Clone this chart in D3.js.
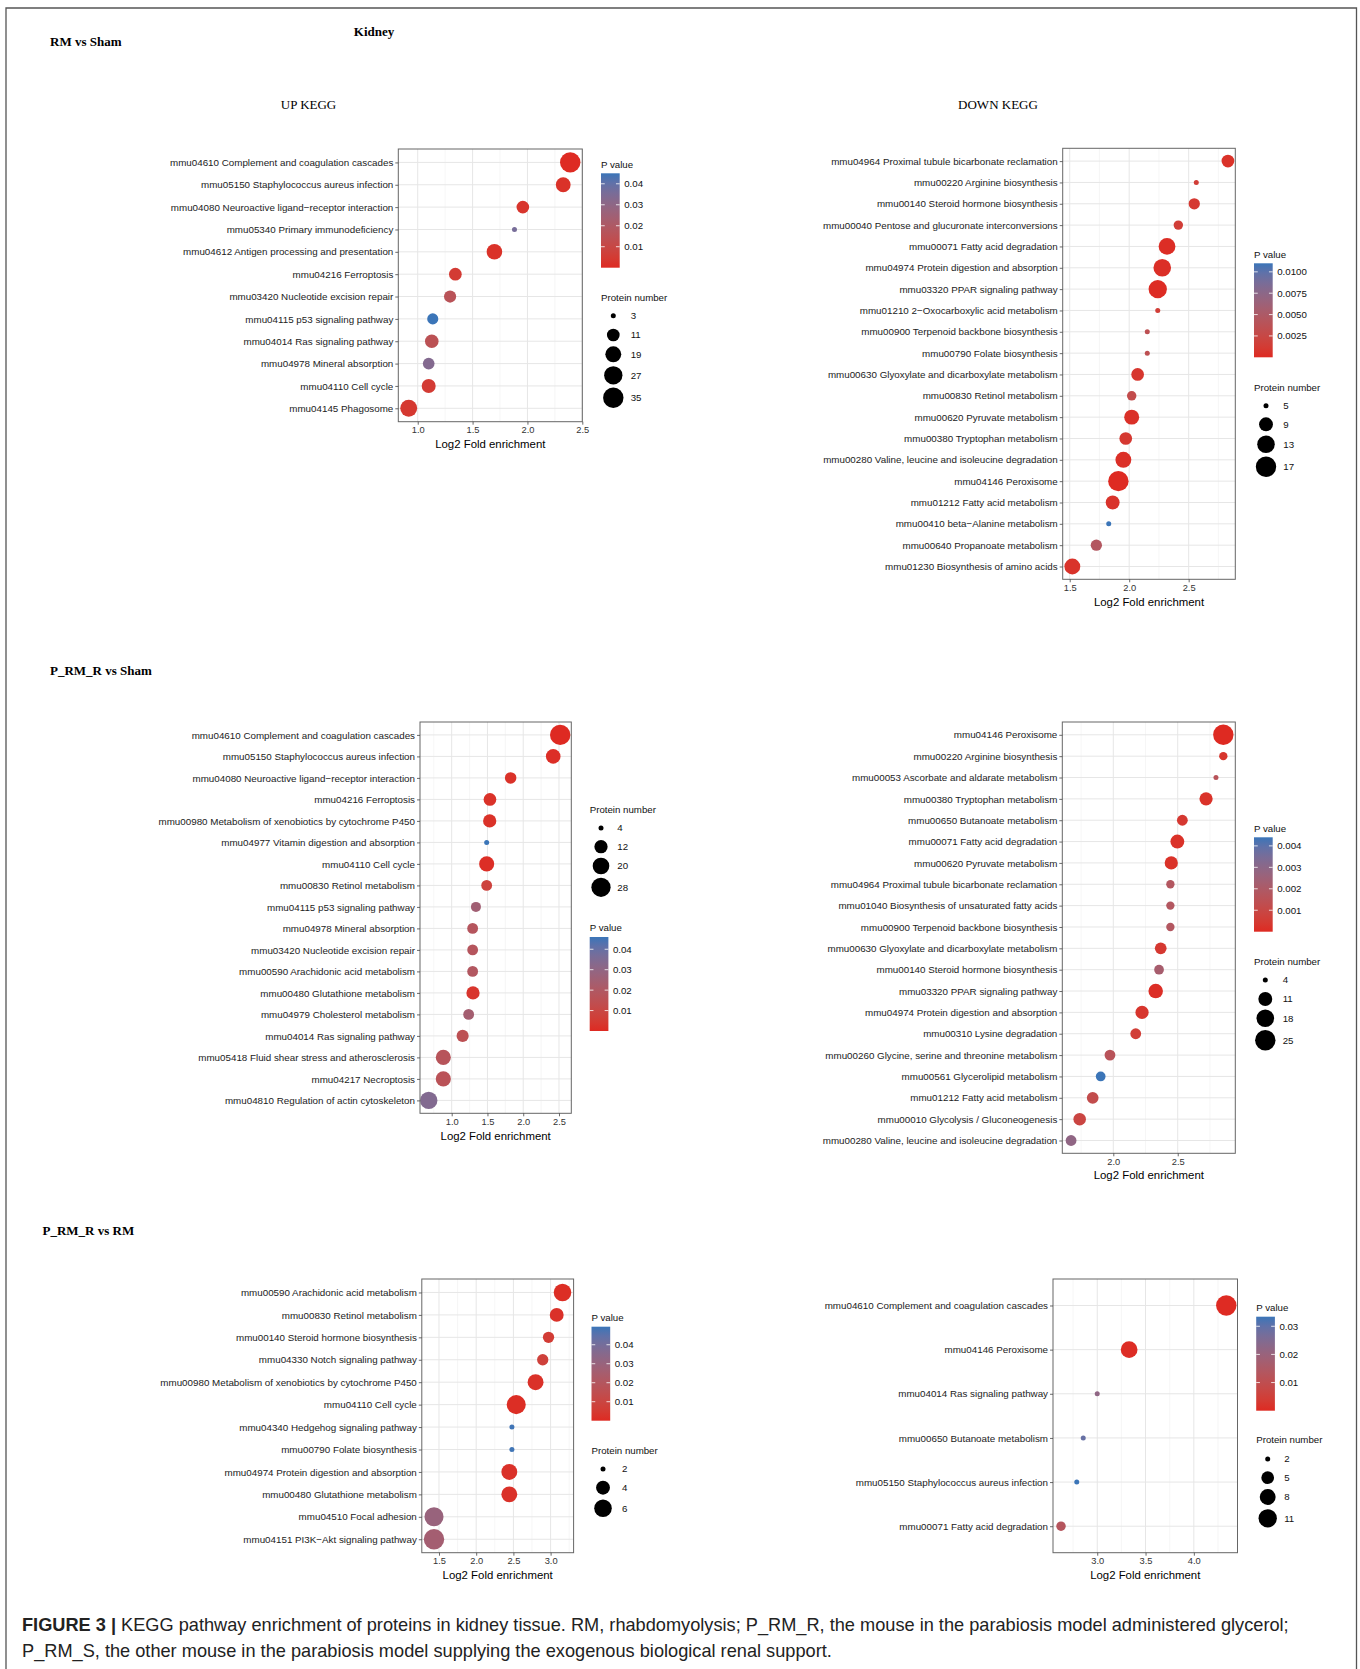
<!DOCTYPE html>
<html><head><meta charset="utf-8">
<script src="https://cdn.jsdelivr.net/npm/d3@7"></script>
<style>body{margin:0;background:#fff} svg{display:block}</style>
</head><body>
<svg id="fig" width="1360" height="1669"></svg>
<script>
// ---------------- DATA ----------------
// Panel 1: RM vs Sham, UP KEGG
const p1Terms = ["mmu04610 Complement and coagulation cascades","mmu05150 Staphylococcus aureus infection","mmu04080 Neuroactive ligand\u2212receptor interaction","mmu05340 Primary immunodeficiency","mmu04612 Antigen processing and presentation","mmu04216 Ferroptosis","mmu03420 Nucleotide excision repair","mmu04115 p53 signaling pathway","mmu04014 Ras signaling pathway","mmu04978 Mineral absorption","mmu04110 Cell cycle","mmu04145 Phagosome"];
const p1Fold = [2.39, 2.326, 1.958, 1.882, 1.699, 1.343, 1.295, 1.137, 1.128, 1.10, 1.10, 0.918];
const p1Count = [35, 16, 11, 3, 18, 11, 10, 8, 13, 9, 14, 22];
const p1P = [0.0002, 0.002, 0.003, 0.036, 0.002, 0.005, 0.016, 0.045, 0.015, 0.033, 0.005, 0.004];
const p1XTicks = [1.0, 1.5, 2.0, 2.5];
const p1PTicks = [0.01, 0.02, 0.03, 0.04];
const p1SizeBreaks = [3, 11, 19, 27, 35];

// Panel 2: RM vs Sham, DOWN KEGG
const p2Terms = ["mmu04964 Proximal tubule bicarbonate reclamation","mmu00220 Arginine biosynthesis","mmu00140 Steroid hormone biosynthesis","mmu00040 Pentose and glucuronate interconversions","mmu00071 Fatty acid degradation","mmu04974 Protein digestion and absorption","mmu03320 PPAR signaling pathway","mmu01210 2\u2212Oxocarboxylic acid metabolism","mmu00900 Terpenoid backbone biosynthesis","mmu00790 Folate biosynthesis","mmu00630 Glyoxylate and dicarboxylate metabolism","mmu00830 Retinol metabolism","mmu00620 Pyruvate metabolism","mmu00380 Tryptophan metabolism","mmu00280 Valine, leucine and isoleucine degradation","mmu04146 Peroxisome","mmu01212 Fatty acid metabolism","mmu00410 beta\u2212Alanine metabolism","mmu00640 Propanoate metabolism","mmu01230 Biosynthesis of amino acids"];
const p2Fold = [2.830, 2.564, 2.547, 2.413, 2.318, 2.278, 2.240, 2.240, 2.152, 2.152, 2.071, 2.021, 2.021, 1.971, 1.951, 1.909, 1.861, 1.828, 1.724, 1.522];
const p2Count = [8, 5, 7, 6, 12, 13, 14, 5, 5, 5, 8, 6, 10, 8, 11, 17, 9, 5, 7, 11];
const p2P = [0.0005, 0.0015, 0.001, 0.0015, 0.0002, 0.0003, 0.0001, 0.0015, 0.0035, 0.0035, 0.0008, 0.003, 0.0004, 0.001, 0.0003, 0.00002, 0.0006, 0.011, 0.0045, 0.0006];
const p2XTicks = [1.5, 2.0, 2.5];
const p2PTicks = [0.0025, 0.005, 0.0075, 0.01];
const p2SizeBreaks = [5, 9, 13, 17];

// Panel 3: P_RM_R vs Sham, UP KEGG
const p3Terms = ["mmu04610 Complement and coagulation cascades","mmu05150 Staphylococcus aureus infection","mmu04080 Neuroactive ligand\u2212receptor interaction","mmu04216 Ferroptosis","mmu00980 Metabolism of xenobiotics by cytochrome P450","mmu04977 Vitamin digestion and absorption","mmu04110 Cell cycle","mmu00830 Retinol metabolism","mmu04115 p53 signaling pathway","mmu04978 Mineral absorption","mmu03420 Nucleotide excision repair","mmu00590 Arachidonic acid metabolism","mmu00480 Glutathione metabolism","mmu04979 Cholesterol metabolism","mmu04014 Ras signaling pathway","mmu05418 Fluid shear stress and atherosclerosis","mmu04217 Necroptosis","mmu04810 Regulation of actin cytoskeleton"];
const p3Fold = [2.517, 2.419, 1.824, 1.535, 1.531, 1.489, 1.489, 1.489, 1.339, 1.293, 1.293, 1.293, 1.298, 1.237, 1.153, 0.883, 0.883, 0.679];
const p3Count = [32, 15, 9, 11, 12, 4, 16, 8, 7, 8, 8, 8, 12, 8, 10, 16, 16, 22];
const p3P = [0.0001, 0.001, 0.002, 0.002, 0.002, 0.046, 0.001, 0.008, 0.025, 0.018, 0.018, 0.019, 0.003, 0.024, 0.015, 0.017, 0.016, 0.034];
const p3XTicks = [1.0, 1.5, 2.0, 2.5];
const p3PTicks = [0.01, 0.02, 0.03, 0.04];
const p3SizeBreaks = [4, 12, 20, 28];

// Panel 4: P_RM_R vs Sham, DOWN KEGG
const p4Terms = ["mmu04146 Peroxisome","mmu00220 Arginine biosynthesis","mmu00053 Ascorbate and aldarate metabolism","mmu00380 Tryptophan metabolism","mmu00650 Butanoate metabolism","mmu00071 Fatty acid degradation","mmu00620 Pyruvate metabolism","mmu04964 Proximal tubule bicarbonate reclamation","mmu01040 Biosynthesis of unsaturated fatty acids","mmu00900 Terpenoid backbone biosynthesis","mmu00630 Glyoxylate and dicarboxylate metabolism","mmu00140 Steroid hormone biosynthesis","mmu03320 PPAR signaling pathway","mmu04974 Protein digestion and absorption","mmu00310 Lysine degradation","mmu00260 Glycine, serine and threonine metabolism","mmu00561 Glycerolipid metabolism","mmu01212 Fatty acid metabolism","mmu00010 Glycolysis / Gluconeogenesis","mmu00280 Valine, leucine and isoleucine degradation"];
const p4Fold = [2.854, 2.854, 2.797, 2.72, 2.536, 2.497, 2.45, 2.443, 2.443, 2.443, 2.368, 2.355, 2.329, 2.223, 2.174, 1.974, 1.902, 1.84, 1.739, 1.672];
const p4Count = [25, 5, 4, 10, 7, 11, 10, 5, 5, 5, 8, 6, 12, 10, 7, 7, 6, 8, 9, 7];
const p4P = [0.00001, 0.0003, 0.0016, 0.0002, 0.0004, 0.0002, 0.0002, 0.0018, 0.0018, 0.0018, 0.0004, 0.0022, 0.0001, 0.0003, 0.0006, 0.0016, 0.0044, 0.0012, 0.0009, 0.0029];
const p4XTicks = [2.0, 2.5];
const p4PTicks = [0.001, 0.002, 0.003, 0.004];
const p4SizeBreaks = [4, 11, 18, 25];

// Panel 5: P_RM_R vs RM, UP KEGG
const p5Terms = ["mmu00590 Arachidonic acid metabolism","mmu00830 Retinol metabolism","mmu00140 Steroid hormone biosynthesis","mmu04330 Notch signaling pathway","mmu00980 Metabolism of xenobiotics by cytochrome P450","mmu04110 Cell cycle","mmu04340 Hedgehog signaling pathway","mmu00790 Folate biosynthesis","mmu04974 Protein digestion and absorption","mmu00480 Glutathione metabolism","mmu04510 Focal adhesion","mmu04151 PI3K\u2212Akt signaling pathway"];
const p5Fold = [3.16, 3.082, 2.972, 2.894, 2.798, 2.538, 2.48, 2.48, 2.445, 2.445, 1.433, 1.433];
const p5Count = [6, 4, 3, 3, 5, 7, 2, 2, 5, 5, 7, 8];
const p5P = [0.001, 0.002, 0.006, 0.008, 0.002, 0.001, 0.049, 0.049, 0.002, 0.002, 0.030, 0.026];
const p5XTicks = [1.5, 2.0, 2.5, 3.0];
const p5PTicks = [0.01, 0.02, 0.03, 0.04];
const p5SizeBreaks = [2, 4, 6];

// Panel 6: P_RM_R vs RM, DOWN KEGG
const p6Terms = ["mmu04610 Complement and coagulation cascades","mmu04146 Peroxisome","mmu04014 Ras signaling pathway","mmu00650 Butanoate metabolism","mmu05150 Staphylococcus aureus infection","mmu00071 Fatty acid degradation"];
const p6Fold = [4.336, 3.33, 3.0, 2.855, 2.788, 2.625];
const p6Count = [14, 9, 2, 2, 2, 3];
const p6P = [0.0001, 0.0005, 0.022, 0.029, 0.0334, 0.013];
const p6XTicks = [3.0, 3.5, 4.0];
const p6PTicks = [0.01, 0.02, 0.03];
const p6SizeBreaks = [2, 5, 8, 11];

// ---------------- LAYOUT ----------------
const SANS = "'Liberation Sans', Arial, Helvetica, sans-serif";
const SERIF = "'Liberation Serif', 'Times New Roman', serif";
const LOW = "#DE2A22", HIGH = "#3B75B8";
const RMIN = 2.5, RMAX = 10.2;

const panels = [
 {terms:p1Terms, fold:p1Fold, count:p1Count, pval:p1P, xTicks:p1XTicks, pTicks:p1PTicks, pFmt:".2f", sizeBreaks:p1SizeBreaks,
  box:[398.3,149,582.3,421.7], xDom:[0.823,2.5], pMax:0.045, sizeDom:[3,35], axisY:444,
  pLeg:{x:601, title:164.3, top:173.3, bottom:267.7}, sLeg:{x:601, title:297, cx:613.3, lx:630.7, rows:[315.7,335,354.3,375.3,397.7]}},
 {terms:p2Terms, fold:p2Fold, count:p2Count, pval:p2P, xTicks:p2XTicks, pTicks:p2PTicks, pFmt:".4f", sizeBreaks:p2SizeBreaks,
  box:[1062.7,148.3,1235.3,579.3], xDom:[1.441,2.892], pMax:0.011, sizeDom:[5,17], axisY:602,
  pLeg:{x:1254, title:254, top:263.3, bottom:357.3}, sLeg:{x:1254, title:387, cx:1266, lx:1283.3, rows:[405.7,424.3,444.3,466.7]}},
 {terms:p3Terms, fold:p3Fold, count:p3Count, pval:p3P, xTicks:p3XTicks, pTicks:p3PTicks, pFmt:".2f", sizeBreaks:p3SizeBreaks,
  box:[420,722,571.3,1113.3], xDom:[0.557,2.672], pMax:0.046, sizeDom:[4,32], axisY:1136,
  pLeg:{x:589.7, title:927.7, top:937, bottom:1031}, sLeg:{x:589.7, title:809, cx:601, lx:617.3, rows:[828,846.7,866,887.3]}},
 {terms:p4Terms, fold:p4Fold, count:p4Count, pval:p4P, xTicks:p4XTicks, pTicks:p4PTicks, pFmt:".3f", sizeBreaks:p4SizeBreaks,
  box:[1062.3,722,1235.3,1153.3], xDom:[1.604,2.947], pMax:0.0044, sizeDom:[4,25], axisY:1175.3,
  pLeg:{x:1254, title:828.3, top:837.3, bottom:931.7}, sLeg:{x:1254, title:961, cx:1265.3, lx:1282.7, rows:[980,999,1018.3,1040.3]}},
 {terms:p5Terms, fold:p5Fold, count:p5Count, pval:p5P, xTicks:p5XTicks, pTicks:p5PTicks, pFmt:".2f", sizeBreaks:p5SizeBreaks,
  box:[421.8,1279,573.6,1552.7], xDom:[1.269,3.309], pMax:0.0495, sizeDom:[2,8], axisY:1575,
  pLeg:{x:591.5, title:1317.3, top:1326.7, bottom:1420.7}, sLeg:{x:591.5, title:1450, cx:603, lx:622, rows:[1469,1487.7,1508.3]}},
 {terms:p6Terms, fold:p6Fold, count:p6Count, pval:p6P, xTicks:p6XTicks, pTicks:p6PTicks, pFmt:".2f", sizeBreaks:p6SizeBreaks,
  box:[1053,1279,1237.5,1552.7], xDom:[2.542,4.452], pMax:0.0334, sizeDom:[2,14], axisY:1575,
  pLeg:{x:1256.2, title:1307, top:1316.7, bottom:1410.7}, sLeg:{x:1256.2, title:1439.7, cx:1267.7, lx:1284.2, rows:[1459,1477.7,1497,1518.3]}}
];

const svg = d3.select("#fig");
svg.append("rect").attr("width",1360).attr("height",1669).attr("fill","#fff");
const defs = svg.append("defs");

// frame
svg.append("path").attr("d","M6,1675 V8 H1356.5 V1675").attr("fill","none").attr("stroke","#555").attr("stroke-width",1.3);

// headings
const heads = [
  {t:"RM vs Sham", x:50, y:46, a:"start", w:"bold"},
  {t:"Kidney", x:374, y:35.5, a:"middle", w:"bold"},
  {t:"UP KEGG", x:308.5, y:108.5, a:"middle", w:"normal"},
  {t:"DOWN KEGG", x:998, y:108.5, a:"middle", w:"normal"},
  {t:"P_RM_R vs Sham", x:50, y:674.5, a:"start", w:"bold"},
  {t:"P_RM_R vs RM", x:42.5, y:1234.5, a:"start", w:"bold"}
];
heads.forEach(h => svg.append("text").attr("x",h.x).attr("y",h.y).attr("text-anchor",h.a)
  .attr("font-family",SERIF).attr("font-size",13).attr("font-weight",h.w).attr("fill","#000").text(h.t));

panels.forEach((P, pi) => {
  const [L,T,R,B] = P.box;
  const g = svg.append("g");
  const x = d3.scaleLinear().domain(P.xDom).range([L,R]);
  const y = d3.scalePoint().domain(P.terms).range([T,B]).padding(0.6);
  const col = d3.scaleLinear().domain([0,P.pMax]).range([LOW,HIGH]).interpolate(d3.interpolateLab).clamp(true);
  const st = d3.scaleLinear().domain(P.sizeDom).range([0,1]).clamp(true);
  const rr = d3.scaleSqrt().domain([0,1]).range([0, RMAX-RMIN]);
  const rad = v => RMIN + rr(st(v));

  g.append("rect").attr("x",L).attr("y",T).attr("width",R-L).attr("height",B-T).attr("fill","#fff");
  // minor grid
  const step = P.xTicks[1]-P.xTicks[0];
  const minors = [];
  for (let v = P.xTicks[0]-step/2; v <= P.xDom[1]; v += step) if (v >= P.xDom[0]) minors.push(v);
  g.selectAll(".mn").data(minors).join("line").attr("x1",d=>x(d)).attr("x2",d=>x(d)).attr("y1",T).attr("y2",B)
    .attr("stroke","#f0f0f0").attr("stroke-width",0.6);
  g.selectAll(".mjx").data(P.xTicks).join("line").attr("x1",d=>x(d)).attr("x2",d=>x(d)).attr("y1",T).attr("y2",B)
    .attr("stroke","#e6e6e6").attr("stroke-width",1);
  g.selectAll(".mjy").data(P.terms).join("line").attr("x1",L).attr("x2",R).attr("y1",d=>y(d)).attr("y2",d=>y(d))
    .attr("stroke","#e6e6e6").attr("stroke-width",1);

  // points
  const rows = P.terms.map((t,i)=>({t, f:P.fold[i], c:P.count[i], p:P.pval[i]}));
  g.selectAll(".pt").data(rows).join("circle").attr("cx",d=>x(d.f)).attr("cy",d=>y(d.t)).attr("r",d=>rad(d.c))
    .attr("fill",d=>col(d.p));

  g.append("rect").attr("x",L).attr("y",T).attr("width",R-L).attr("height",B-T).attr("fill","none")
    .attr("stroke","#666").attr("stroke-width",1);

  // axes
  const ya = g.append("g").attr("transform",`translate(${L},0)`).call(d3.axisLeft(y).tickSize(3).tickPadding(2));
  ya.select(".domain").remove();
  ya.selectAll("line").attr("stroke","#444").attr("stroke-width",0.8);
  ya.selectAll("text").attr("font-family",SANS).attr("font-size",9.8).attr("fill","#222");
  const xa = g.append("g").attr("transform",`translate(0,${B})`).call(d3.axisBottom(x).tickValues(P.xTicks).tickFormat(d3.format(".1f")).tickSize(3).tickPadding(2));
  xa.select(".domain").remove();
  xa.selectAll("line").attr("stroke","#444").attr("stroke-width",0.8);
  xa.selectAll("text").attr("font-family",SANS).attr("font-size",9.3).attr("fill","#333");
  g.append("text").attr("x",(L+R)/2).attr("y",P.axisY+4).attr("text-anchor","middle")
    .attr("font-family",SANS).attr("font-size",11.4).attr("fill","#000").text("Log2 Fold enrichment");

  // P value legend
  const PL = P.pLeg, bw = 18.7;
  g.append("text").attr("x",PL.x).attr("y",PL.title+3.5).attr("font-family",SANS).attr("font-size",9.7).attr("fill","#111").text("P value");
  const gid = "grad"+pi;
  const grad = defs.append("linearGradient").attr("id",gid).attr("x1",0).attr("y1",1).attr("x2",0).attr("y2",0);
  d3.range(0,11).forEach(i => grad.append("stop").attr("offset",i/10).attr("stop-color",col(P.pMax*i/10)));
  g.append("rect").attr("x",PL.x).attr("y",PL.top).attr("width",bw).attr("height",PL.bottom-PL.top).attr("fill",`url(#${gid})`);
  const py = d3.scaleLinear().domain([0,P.pMax]).range([PL.bottom,PL.top]);
  P.pTicks.forEach(v => {
    [[PL.x, PL.x+bw/5],[PL.x+bw-bw/5, PL.x+bw]].forEach(([a,b]) =>
      g.append("line").attr("x1",a).attr("x2",b).attr("y1",py(v)).attr("y2",py(v)).attr("stroke","#fff").attr("stroke-width",0.8));
    g.append("text").attr("x",PL.x+bw+4.5).attr("y",py(v)+3.4).attr("font-family",SANS).attr("font-size",9.7).attr("fill","#111")
      .text(d3.format(P.pFmt)(v));
  });

  // size legend
  const SL = P.sLeg;
  g.append("text").attr("x",SL.x).attr("y",SL.title+3.5).attr("font-family",SANS).attr("font-size",9.7).attr("fill","#111").text("Protein number");
  P.sizeBreaks.forEach((v,i) => {
    g.append("circle").attr("cx",SL.cx).attr("cy",SL.rows[i]).attr("r",rad(v)).attr("fill","#000");
    g.append("text").attr("x",SL.lx).attr("y",SL.rows[i]+3.4).attr("font-family",SANS).attr("font-size",9.7).attr("fill","#111").text(v);
  });
});

// caption
const cap1 = svg.append("text").attr("x",22).attr("y",1631).attr("font-family",SANS).attr("font-size",17).attr("fill","#222");
cap1.append("tspan").attr("font-weight","bold").text("FIGURE 3 |");
cap1.append("tspan").text(" KEGG pathway enrichment of proteins in kidney tissue. RM, rhabdomyolysis; P_RM_R, the mouse in the parabiosis model administered glycerol;");
const cap2 = svg.append("text").attr("x",22).attr("y",1656.5).attr("font-family",SANS).attr("font-size",17).attr("fill","#222")
  .text("P_RM_S, the other mouse in the parabiosis model supplying the exogenous biological renal support.");
const len1 = cap1.node().getComputedTextLength();
const fs = 17 * 1268 / len1;
cap1.attr("font-size",fs); cap2.attr("font-size",fs);
</script>
</body></html>
